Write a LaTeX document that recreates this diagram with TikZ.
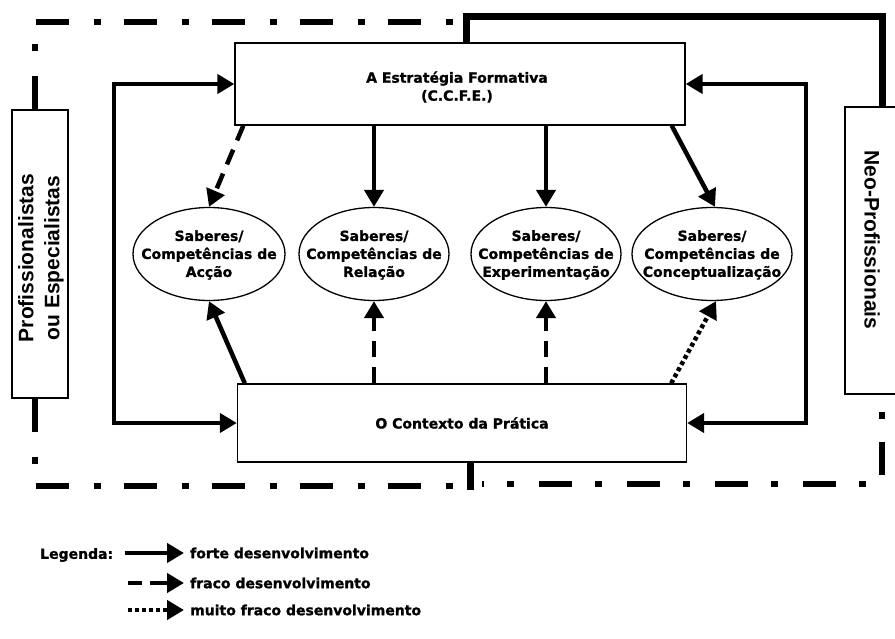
\documentclass[tikz,border=0pt]{standalone}
\usepackage{fontspec}
\setmainfont{DejaVu Sans}[BoldFeatures={FakeBold=1.2}]
\newfontfamily\arialfont{Liberation Sans}
\usetikzlibrary{arrows.meta,shapes.geometric}
\begin{document}
\begin{tikzpicture}[x=1pt,y=-1pt,
  boxnode/.style={draw,line width=1.4pt,rectangle,inner sep=0pt},
  ellnode/.style={draw,line width=1.3pt,ellipse,inner sep=0pt,minimum width=152pt,minimum height=93pt},
  txt/.style={font=\fontsize{14}{18}\selectfont\bfseries,align=center,inner sep=0pt},
  sidetxt/.style={font=\arialfont\fontsize{21}{26}\selectfont\bfseries,align=center,inner sep=0pt},
  dashdot/.style={line width=6.5pt,dash pattern=on 33pt off 25pt on 7pt off 23pt},
  thickline/.style={line width=7pt,line join=miter},
  arr/.style={line width=4.5pt,-{Triangle[length=17pt,width=19pt]}},
  dbl/.style={line width=4.5pt,{Triangle[length=17pt,width=19pt]}-{Triangle[length=17pt,width=19pt]}},
  dsh/.style={dash pattern=on 16pt off 10pt},
  dot/.style={dash pattern=on 4pt off 3pt}
]
\useasboundingbox (0,0) rectangle (895,639);

% boxes
\node[boxnode,minimum width=450pt,minimum height=82pt] (est) at (460,84) {};
\node[txt] (estt) at (457,87) {A Estratégia Formativa\\(C.C.F.E.)};
\node[boxnode,minimum width=449pt,minimum height=78pt] (ctx) at (462,423) {};
\node[txt] (ctxt) at (462,423) {O Contexto da Prática};

\node[boxnode,minimum width=56pt,minimum height=288pt] (lb) at (40,254) {};
\node[sidetxt,rotate=90] (lbt) at (41,258) {Profissionalistas\\ou Especialistas};
\node[boxnode,minimum width=60pt,minimum height=287pt] (rb) at (875,250.5) {};
\node[sidetxt,rotate=-90] (rbt) at (872,240) {Neo-Profissionais};

% ellipses
\node[ellnode] (e1) at (209,254) {};
\node[ellnode,minimum width=150pt] (e2) at (374,254) {};
\node[ellnode,minimum width=150pt] (e3) at (546,254) {};
\node[ellnode,minimum width=160pt] (e4) at (712,254) {};
\node[txt] (e1t) at (209,255) {Saberes/\\Competências de\\Acção};
\node[txt] (e2t) at (374,255) {Saberes/\\Competências de\\Relação};
\node[txt] (e3t) at (546,255) {Saberes/\\Competências de\\Experimentação};
\node[txt] (e4t) at (712,255) {Saberes/\\Competências de\\Conceptualização};

% frame
\draw[dashdot] (lb.north -| 35,0) -- (35,22) -- (458,22);
\draw[dashdot] (lb.south -| 35,0) -- (35,486) -- (456,486);
\draw[dashdot,dash phase=40pt] (882,394) -- (882,484) -- (482,484);
\draw[thickline] (466,43) -- (466,17) -- (882,17) -- (882,107);
\draw[thickline] (470,462) -- (470,490);

% arrows from strategy
\draw[arr,dsh] ([xshift=9pt]est.south west) -- (e1.north);
\draw[arr] (est.south -| e2.north) -- (e2.north);
\draw[arr] (est.south -| e3.north) -- (e3.north);
\draw[arr] ([xshift=-14pt]est.south east) -- ([xshift=3pt]e4.north);

% arrows from context
\draw[arr] ([xshift=8pt]ctx.north west) -- (e1.south);
\draw[arr,dsh] (ctx.north -| e2.south) -- (e2.south);
\draw[arr,dsh] (ctx.north -| e3.south) -- (e3.south);
\draw[arr,dot] ([xshift=-16pt]ctx.north east) -- ([xshift=4pt]e4.south);

% side loops
\draw[dbl] (est.west) -| (114,250) |- (ctx.west);
\draw[dbl] (est.east) -| (806,250) |- (ctx.east);

% legend
\node[txt,anchor=west] (leg) at (40,555) {Legenda:};
\coordinate (l1a) at (125,553);
\coordinate (l1b) at (184,553);
\coordinate (l2a) at (128,583);
\coordinate (l2b) at (184,583);
\coordinate (l3a) at (128,610);
\coordinate (l3b) at (184,610);
\draw[arr] (l1a) -- (l1b);
\draw[arr,dash pattern=on 14pt off 8pt on 80pt off 1pt] (l2a) -- (l2b);
\draw[arr,dot] (l3a) -- (l3b);
\node[txt,anchor=west] (t1) at (190,553) {forte desenvolvimento};
\node[txt,anchor=west] (t2) at (190,583) {fraco desenvolvimento};
\node[txt,anchor=west] (t3) at (190,610) {muito fraco desenvolvimento};
\end{tikzpicture}
\end{document}
